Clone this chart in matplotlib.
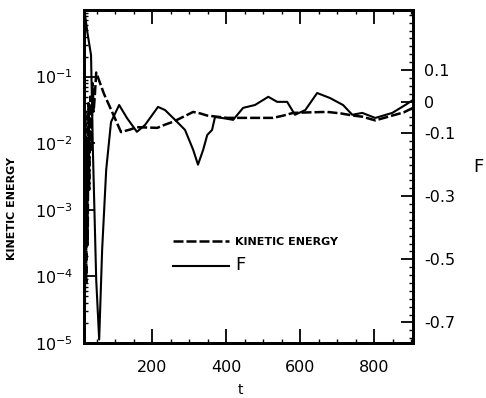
import numpy as np
import matplotlib
matplotlib.use("Agg")
import matplotlib.pyplot as plt
from matplotlib.ticker import MultipleLocator, FixedLocator, LogLocator, NullFormatter

# kinetic energy (left, log axis)
t_ke = [16, 18, 20, 22, 24, 26, 28, 30, 33, 36, 39, 42, 45, 49,
        70, 95, 116, 140, 159, 185, 214, 235, 257, 285, 311, 330, 349,
        375, 403, 435, 465, 500, 527, 555, 581, 620, 673, 710, 743, 768,
        803, 849, 880, 905]
ke = [1e-2, 2e-5, 3e-2, 8e-5, 1.2e-2, 3e-4, 4e-2, 2e-3, 5e-2, 8e-3, 0.08, 0.03, 0.05, 0.115,
      0.055, 0.027, 0.0147, 0.016, 0.0174, 0.0172, 0.017, 0.019, 0.021, 0.025, 0.0295, 0.028, 0.026,
      0.025, 0.024, 0.024, 0.024, 0.024, 0.024, 0.026, 0.0285, 0.029, 0.0295, 0.028, 0.026, 0.025,
      0.022, 0.026, 0.029, 0.034]

# F (right axis)
t_f = [16, 25, 35, 40, 49, 57, 65, 76, 89, 111, 132, 159, 181, 216, 235,
       262, 289, 311, 324, 338, 349, 362, 370, 389, 419, 446, 478, 514,
       538, 565, 586, 614, 646, 681, 716, 741, 768, 803, 849, 884, 905]
f = [0.3, 0.22, 0.147, -0.153, -0.565, -0.754, -0.47, -0.216, -0.065, -0.011, -0.052, -0.096, -0.074, -0.017, -0.027,
     -0.058, -0.09, -0.153, -0.2, -0.153, -0.106, -0.09, -0.049, -0.052, -0.058, -0.02, -0.011, 0.015,
     -0.001, -0.001, -0.042, -0.027, 0.027, 0.011, -0.011, -0.042, -0.036, -0.052, -0.036, -0.011, 0.005]

f_ticks = [0.1, 0, -0.1, -0.3, -0.5, -0.7]
f_labels = ['0.1', '0', '-0.1', '-0.3', '-0.5', '-0.7']

fig = plt.figure(figsize=(4.86, 3.98), dpi=100)
ax = fig.add_axes([84/486, 55/398, 329/486, 333/398])
ax2 = ax.twinx()

l1, = ax.plot(t_ke, ke, color='black', lw=1.8, ls=(0, (4, 1.2)), label='KINETIC ENERGY')
l2, = ax2.plot(t_f, f, color='black', lw=1.5, label='F')

ax.set_yscale('log')
ax.set_xlim(16, 905)
ax.set_ylim(1e-5, 1)
ax2.set_ylim(-0.765, 0.29)

ax.set_xticks([200, 400, 600, 800])
ax.xaxis.set_minor_locator(MultipleLocator(50))
ax.set_yticks([1e-1, 1e-2, 1e-3, 1e-4, 1e-5])
ax.yaxis.set_minor_locator(LogLocator(base=10, subs=np.arange(2, 10)))
ax.yaxis.set_minor_formatter(NullFormatter())
ax2.yaxis.set_major_locator(FixedLocator(f_ticks))
ax2.set_yticklabels(f_labels)
ax2.yaxis.set_minor_locator(MultipleLocator(0.025))

ax.tick_params(which='major', direction='in', length=8, width=1.3, labelsize=11.5, pad=8,
               top=True)
ax.tick_params(which='minor', direction='in', length=3, width=1, top=True)
ax.tick_params(axis='x', which='major', length=10, pad=12)
ax2.tick_params(which='major', direction='in', length=9, width=1.3, labelsize=11.5, pad=8)
ax2.tick_params(which='minor', direction='in', length=3, width=1)

for a in (ax, ax2):
    for s in a.spines.values():
        s.set_linewidth(2)

ax.set_xlabel('t', fontsize=10)
ax.xaxis.set_label_coords(0.475, -0.12)
ax.set_ylabel('KINETIC ENERGY', fontsize=8, fontweight='bold')
ax.yaxis.set_label_coords(-0.205, 0.405)
ax2.set_ylabel('F', fontsize=13, rotation=0, va='center')
ax2.yaxis.set_label_coords(1.198, 0.53)

leg = ax.legend([l1, l2], ['KINETIC ENERGY', 'F'], loc='upper left',
                bbox_to_anchor=(0.24, 0.348), frameon=False, handlelength=5,
                handletextpad=0.6, labelspacing=0.8, fontsize=8)
leg.get_texts()[0].set_fontweight('bold')
leg.get_texts()[1].set_fontsize(13)

fig.savefig('out.png', dpi=100)
